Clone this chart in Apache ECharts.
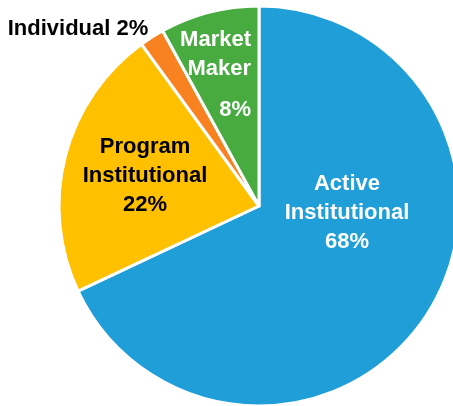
<!DOCTYPE html>
<html>
<head>
    <meta charset="UTF-8" />
    <title>Trading by participant type</title>
    <script src="https://cdn.jsdelivr.net/npm/echarts@6/dist/echarts.min.js"></script>
    <style>
        html, body { margin: 0; padding: 0; background: #fff; }
        #main { width: 453px; height: 406px; }
    </style>
</head>
<body>
<div id="main"></div>
<script type="text/javascript">
    // data (shares in %)
    var categories = ['Active Institutional', 'Program Institutional', 'Individual', 'Market Maker'];
    var shares = [68, 22, 2, 8];
    var sliceColors = ['#1f9ed8', '#ffc000', '#f7821f', '#47ab3f'];
    var labelColors = ['#ffffff', '#000000', '#000000', '#ffffff'];

    // where each label sits (pixels in the 453x406 frame) and how it is aligned
    var labelSpots = [[347, 213], [145, 176], [78, 29], [251, 81]];
    var labelAligns = ['center', 'center', 'center', 'right'];

    var font = "'Liberation Sans', Arial, sans-serif";

    function labelText(name, val) {
        if (name === 'Individual') return name + ' ' + val + '%';
        var words = name.split(' ');
        if (name === 'Market Maker') {
            return '{n|' + words[0] + '}\n{n|' + words[1] + '}\n{gap|' + val + '%}';
        }
        return words.join('\n') + '\n' + val + '%';
    }

    var pieData = categories.map(function (c, i) {
        var item = {
            name: c,
            value: shares[i],
            itemStyle: { color: sliceColors[i] },
            label: { color: labelColors[i], align: labelAligns[i] }
        };
        if (c === 'Individual') {
            item.label.fontSize = 22;
            item.label.lineHeight = 24;
        }
        return item;
    });

    var myChart = echarts.init(document.getElementById('main'));
    var option = {
        animation: false,
        backgroundColor: '#ffffff',
        series: [{
            type: 'pie',
            center: [259, 206],
            radius: 200,
            startAngle: 90,
            clockwise: true,
            data: pieData,
            itemStyle: { borderColor: '#ffffff', borderWidth: 3 },
            label: {
                show: true,
                position: 'inside',
                fontFamily: font,
                fontWeight: 'bold',
                fontSize: 22,
                lineHeight: 29,
                formatter: function (p) { return labelText(p.name, p.value); },
                rich: {
                    n: { fontFamily: font, fontWeight: 'bold', fontSize: 22, lineHeight: 29, color: '#fff' },
                    gap: { fontFamily: font, fontWeight: 'bold', fontSize: 22, lineHeight: 53, color: '#fff' }
                }
            },
            labelLine: { show: false },
            labelLayout: function (params) {
                var i = params.dataIndex;
                var s = labelSpots[i];
                return { x: s[0], y: s[1], align: labelAligns[i], verticalAlign: 'middle' };
            },
            emphasis: { disabled: true }
        }]
    };
    myChart.setOption(option);
</script>
</body>
</html>
